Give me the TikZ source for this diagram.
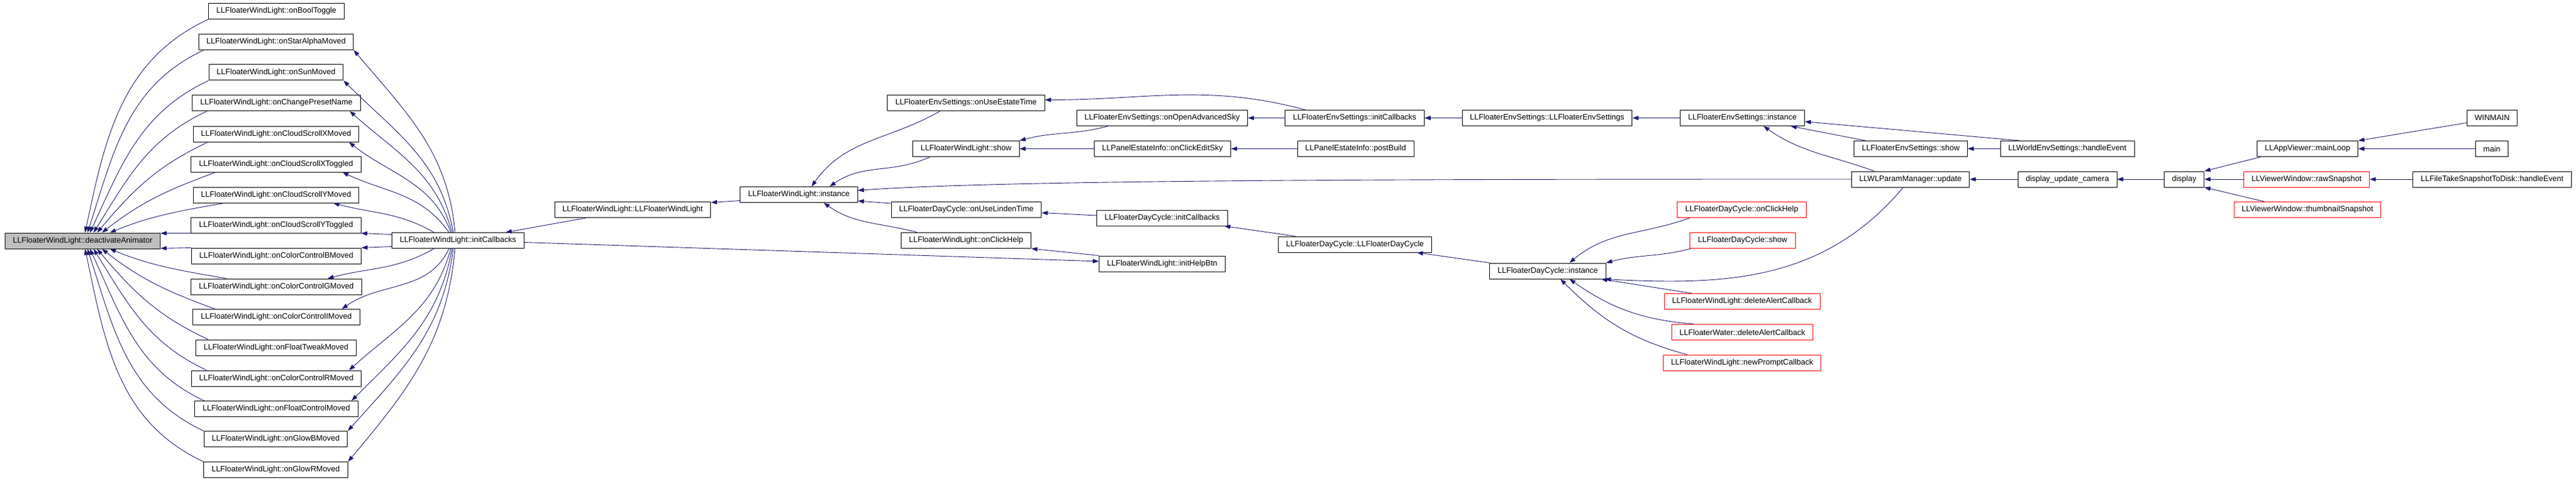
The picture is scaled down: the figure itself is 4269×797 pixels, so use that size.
\documentclass[tikz,border=0pt]{standalone}
\usepackage{fontspec}
\setmainfont{Liberation Sans}
\usetikzlibrary{arrows.meta}
\definecolor{edgeBlue}{HTML}{191970}
\definecolor{rootGray}{HTML}{BFBFBF}
\tikzset{
  func/.style={draw=black, line width=1pt, minimum height=26pt, inner xsep=13pt, inner ysep=0pt, font=\fontsize{13}{15}\selectfont},
  funcred/.style={func, draw=red},
  call/.style={draw=edgeBlue, line width=0.9pt, {Triangle[length=10pt,width=7pt]}-}
}

\begin{document}
\begin{tikzpicture}[x=1pt, y=1pt]
  \useasboundingbox[fill=white] (0,0) rectangle (4269,-797);

  % callee and its direct callers
  \node[func, fill=rootGray] (deact) at (137,-399) {LLFloaterWindLight::deactivateAnimator};
  \node[func] (boolToggle)     at (458,-18.5)   {LLFloaterWindLight::onBoolToggle};
  \node[func] (starAlpha)      at (457.5,-69.5) {LLFloaterWindLight::onStarAlphaMoved};
  \node[func] (sunMoved)       at (457.5,-120)  {LLFloaterWindLight::onSunMoved};
  \node[func] (presetName)     at (458,-170.5)  {LLFloaterWindLight::onChangePresetName};
  \node[func] (scrollXMoved)   at (457.5,-222)  {LLFloaterWindLight::onCloudScrollXMoved};
  \node[func] (scrollXToggled) at (457.5,-272)  {LLFloaterWindLight::onCloudScrollXToggled};
  \node[func] (scrollYMoved)   at (457.5,-323)  {LLFloaterWindLight::onCloudScrollYMoved};
  \node[func] (scrollYToggled) at (457.5,-373)  {LLFloaterWindLight::onCloudScrollYToggled};
  \node[func] (colorB)         at (458,-424)    {LLFloaterWindLight::onColorControlBMoved};
  \node[func] (colorG)         at (458,-475)    {LLFloaterWindLight::onColorControlGMoved};
  \node[func] (colorI)         at (458,-525.5)  {LLFloaterWindLight::onColorControlIMoved};
  \node[func] (floatTweak)     at (457.5,-576)  {LLFloaterWindLight::onFloatTweakMoved};
  \node[func] (colorR)         at (458,-627)    {LLFloaterWindLight::onColorControlRMoved};
  \node[func] (floatControl)   at (458,-677.5)  {LLFloaterWindLight::onFloatControlMoved};
  \node[func] (glowB)          at (457,-727.5)  {LLFloaterWindLight::onGlowBMoved};
  \node[func] (glowR)          at (457,-778.5)  {LLFloaterWindLight::onGlowRMoved};

  \node[func] (initCb)    at (759,-398.5)   {LLFloaterWindLight::initCallbacks};
  \node[func] (wlCtor)    at (1048.5,-347.5) {LLFloaterWindLight::LLFloaterWindLight};
  \node[func] (wlInst)    at (1324,-322.5)  {LLFloaterWindLight::instance};

  \node[func] (envEstate)     at (1601,-170.5)   {LLFloaterEnvSettings::onUseEstateTime};
  \node[func] (wlShow)        at (1601,-246.5)   {LLFloaterWindLight::show};
  \node[func] (dayLinden)     at (1601.5,-347.5) {LLFloaterDayCycle::onUseLindenTime};
  \node[func] (wlHelp)        at (1601,-398.5)   {LLFloaterWindLight::onClickHelp};
  \node[func] (envAdvSky)     at (1926,-195.5)   {LLFloaterEnvSettings::onOpenAdvancedSky};
  \node[func] (estateEditSky) at (1926.5,-246.5) {LLPanelEstateInfo::onClickEditSky};
  \node[func] (dayInitCb)     at (1926,-361)     {LLFloaterDayCycle::initCallbacks};
  \node[func] (wlHelpBtn)     at (1926,-437)     {LLFloaterWindLight::initHelpBtn};
  \node[func] (envInitCb)     at (2245,-195.5)   {LLFloaterEnvSettings::initCallbacks};
  \node[func] (estatePost)    at (2246.5,-246.5) {LLPanelEstateInfo::postBuild};
  \node[func] (dayCtor)       at (2245.5,-405)   {LLFloaterDayCycle::LLFloaterDayCycle};
  \node[func] (envCtor)       at (2564,-195.5)   {LLFloaterEnvSettings::LLFloaterEnvSettings};
  \node[func] (dayInst)       at (2565,-449)     {LLFloaterDayCycle::instance};
  \node[func] (envInst)       at (2887.5,-195.5) {LLFloaterEnvSettings::instance};

  \node[funcred] (dayHelp)       at (2886.5,-347.5) {LLFloaterDayCycle::onClickHelp};
  \node[funcred] (dayShow)       at (2888,-398.5)   {LLFloaterDayCycle::show};
  \node[funcred] (wlDelAlert)    at (2887,-499.5)   {LLFloaterWindLight::deleteAlertCallback};
  \node[funcred] (waterDelAlert) at (2887.5,-550.5) {LLFloaterWater::deleteAlertCallback};
  \node[funcred] (wlNewPrompt)   at (2887,-601)     {LLFloaterWindLight::newPromptCallback};

  \node[func] (envShow)     at (3166.5,-246.5) {LLFloaterEnvSettings::show};
  \node[func] (paramUpdate) at (3166,-297)     {LLWLParamManager::update};
  \node[func] (worldEnv)    at (3426,-246.5)   {LLWorldEnvSettings::handleEvent};
  \node[func] (dispCam)     at (3426,-297)     {display\_update\_camera};
  \node[func] (disp)        at (3619.5,-297)   {display};
  \node[func] (mainLoop)    at (3824,-246.5)   {LLAppViewer::mainLoop};
  \node[funcred] (rawSnap)   at (3822.5,-297)  {LLViewerWindow::rawSnapshot};
  \node[funcred] (thumbSnap) at (3824,-347.5)  {LLViewerWindow::thumbnailSnapshot};
  \node[func] (winmain)     at (4130,-195.5)   {WINMAIN};
  \node[func] (mainFn)      at (4129.5,-246.5) {main};
  \node[func] (snapDisk)    at (4130,-297)     {LLFileTakeSnapshotToDisk::handleEvent};

  % callers of deactivateAnimator
  \draw[call] ([xshift=4]deact.north)  to[out=78,in=205] (boolToggle.south west);
  \draw[call] ([xshift=8]deact.north)  to[out=72,in=205] ([xshift=9]starAlpha.south west);
  \draw[call] ([xshift=12]deact.north) to[out=65,in=205] (sunMoved.south west);
  \draw[call] ([xshift=18]deact.north) to[out=58,in=205] ([xshift=25]presetName.south west);
  \draw[call] ([xshift=24]deact.north) to[out=50,in=205] ([xshift=25]scrollXMoved.south west);
  \draw[call] ([xshift=32]deact.north) to[out=38,in=200] ([xshift=41]scrollXToggled.south west);
  \draw[call] ([xshift=45]deact.north) to[out=22,in=190] ([xshift=52]scrollYMoved.south west);
  \draw[call] ([yshift=-1]deact.north east) -- (scrollYToggled.south west);
  \draw[call] ([yshift=1]deact.south east) -- (colorB.north west);
  \draw[call] ([xshift=45]deact.south) to[out=-22,in=170] ([xshift=59]colorG.north west);
  \draw[call] ([xshift=32]deact.south) to[out=-38,in=160] ([xshift=37]colorI.north west);
  \draw[call] ([xshift=24]deact.south) to[out=-50,in=155] ([xshift=21]floatTweak.north west);
  \draw[call] ([xshift=18]deact.south) to[out=-58,in=155] ([xshift=26]colorR.north west);
  \draw[call] ([xshift=12]deact.south) to[out=-65,in=155] ([xshift=16]floatControl.north west);
  \draw[call] ([xshift=8]deact.south)  to[out=-72,in=155] (glowB.north west);
  \draw[call] ([xshift=4]deact.south)  to[out=-78,in=155] (glowR.north west);

  % initCallbacks fan
  \draw[call] (starAlpha.south east) to[out=-50,in=95] ([xshift=-5]initCb.north);
  \draw[call] (sunMoved.south east) to[out=-45,in=100] ([xshift=-8]initCb.north);
  \draw[call] ([xshift=-18]presetName.south east) to[out=-42,in=105] ([xshift=-10]initCb.north);
  \draw[call] ([xshift=-17]scrollXMoved.south east) to[out=-38,in=110] ([xshift=-12]initCb.north);
  \draw[call] ([xshift=-31]scrollXToggled.south east) to[out=-25,in=125] ([xshift=-15]initCb.north);
  \draw[call] ([xshift=-43]scrollYMoved.south east) to[out=-15,in=150] ([xshift=-40]initCb.north);
  \draw[call] (scrollYToggled.south east) -- ([yshift=10]initCb.west);
  \draw[call] (colorB.north east) -- ([yshift=-10]initCb.west);
  \draw[call] ([xshift=-57]colorG.north east) to[out=15,in=-150] ([xshift=-40]initCb.south);
  \draw[call] ([xshift=-30]colorI.north east) to[out=35,in=-115] ([xshift=-15]initCb.south);
  \draw[call] ([xshift=-21]colorR.north east) to[out=42,in=-105] ([xshift=-12]initCb.south);
  \draw[call] ([xshift=-11]floatControl.north east) to[out=45,in=-100] ([xshift=-10]initCb.south);
  \draw[call] (glowB.north east) to[out=48,in=-97] ([xshift=-8]initCb.south);
  \draw[call] (glowR.north east) to[out=50,in=-95] ([xshift=-5]initCb.south);

  % windlight instance chain
  \draw[call] ([xshift=79]initCb.north) -- ([xshift=-77]wlCtor.south);
  \draw[call] ([yshift=12]wlCtor.east) -- ([yshift=-10]wlInst.west);
  \draw[call] ([xshift=21]wlInst.north) to[out=55,in=-150] ([xshift=-43]envEstate.south);
  \draw[call] ([xshift=51]wlInst.north) to[out=35,in=-155] ([xshift=-60]wlShow.south);
  \draw[call] ([yshift=7]wlInst.east) .. controls +(250,18) and +(-700,0) .. (paramUpdate.west);
  \draw[call] ([yshift=3]wlInst.south east) -- ([yshift=-3]dayLinden.north west);
  \draw[call] ([xshift=41]wlInst.south) to[out=-35,in=165] ([xshift=-81]wlHelp.north);
  \draw[call] (wlShow.north east) to[out=15,in=-165] ([xshift=-90]envAdvSky.south);
  \draw[call] (wlShow.east) -- (estateEditSky.west);
  \draw[call] ([yshift=5]envEstate.east) to[out=0,in=165] ([xshift=34]envInitCb.north west);
  \draw[call] (envAdvSky.east) -- (envInitCb.west);
  \draw[call] (estateEditSky.east) -- (estatePost.west);
  \draw[call] ([yshift=-5]dayLinden.east) -- ([yshift=4]dayInitCb.west);
  \draw[call] (wlHelp.south east) -- (wlHelpBtn.north west);
  \draw[call] ([yshift=4]wlHelpBtn.west) -- ([yshift=-3]initCb.east);

  % env settings
  \draw[call] (envInitCb.east) -- (envCtor.west);
  \draw[call] (envCtor.east) -- (envInst.west);
  \draw[call] ([xshift=80]envInst.south) -- ([xshift=-75]envShow.north);
  \draw[call] ([yshift=-6]envInst.east) -- ([xshift=-79]worldEnv.north);
  \draw[call] ([xshift=35]envInst.south) to[out=-35,in=160] ([xshift=-60]paramUpdate.north);
  \draw[call] (envShow.east) -- (worldEnv.west);

  % day cycle
  \draw[call] ([xshift=-6]dayInitCb.south east) -- ([xshift=29]dayCtor.north west);
  \draw[call] ([xshift=-25]dayCtor.south east) -- (dayInst.north west);
  \draw[call] ([xshift=36]dayInst.north) to[out=40,in=-160] ([xshift=21]dayHelp.south west);
  \draw[call] (dayInst.north east) to[out=15,in=-165] ([xshift=1]dayShow.south west);
  \draw[call] ([xshift=-2]dayInst.south east) to[out=-3,in=-130] ([xshift=-12]paramUpdate.south);
  \draw[call] ([xshift=-8]dayInst.south east) -- ([xshift=46]wlDelAlert.north west);
  \draw[call] ([xshift=36]dayInst.south) to[out=-35,in=175] ([xshift=37]waterDelAlert.north west);
  \draw[call] ([xshift=21]dayInst.south) to[out=-45,in=165] ([xshift=40]wlNewPrompt.north west);

  % display
  \draw[call] (paramUpdate.east) -- (dispCam.west);
  \draw[call] (dispCam.east) -- (disp.west);
  \draw[call] (disp.north east) -- ([xshift=7]mainLoop.south west);
  \draw[call] (disp.east) -- (rawSnap.west);
  \draw[call] (disp.south east) -- ([xshift=51]thumbSnap.north west);
  \draw[call] (mainLoop.north east) -- ([yshift=-8]winmain.west);
  \draw[call] (mainLoop.east) -- (mainFn.west);
  \draw[call] (rawSnap.east) -- (snapDisk.west);
\end{tikzpicture}
\end{document}
